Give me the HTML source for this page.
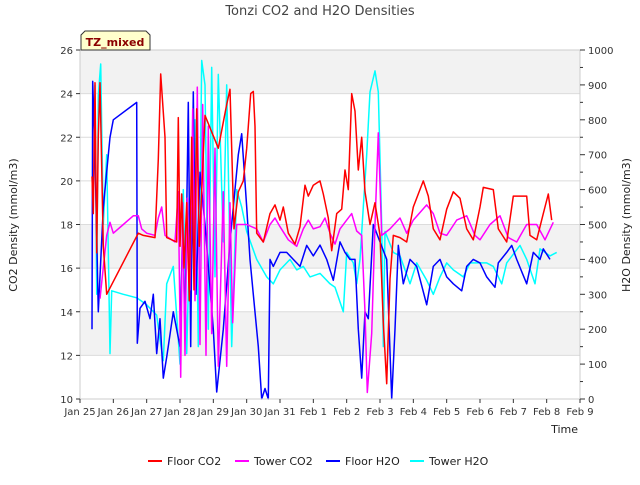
<!DOCTYPE html>
<html><head><meta charset="utf-8"><style>
body{margin:0;background:#fff;font-family:"Liberation Sans","DejaVu Sans",sans-serif}
svg text{font-family:"DejaVu Sans","Liberation Sans",sans-serif}
</style></head><body>
<svg id="chart" width="640" height="480" viewBox="0 0 640 480" xmlns="http://www.w3.org/2000/svg">
<rect width="640" height="480" fill="#fff"/>
<g id="bands"></g><g id="grid"></g><g id="series"></g><g id="axes"></g>
<text x="320" y="15" font-size="13" fill="#444" text-anchor="middle">Tonzi CO2 and H2O Densities</text>
<text transform="translate(17,225) rotate(-90)" font-size="11" fill="#222" text-anchor="middle">CO2 Density (mmol/m3)</text>
<text transform="translate(630,225) rotate(-90)" font-size="11" fill="#222" text-anchor="middle">H2O Density (mmol/m3)</text>
<text x="578" y="433" font-size="11" fill="#222" text-anchor="end">Time</text>
<g>
<path d="M81,50 L81,35 L85,31 L146,31 L150,35 L150,50 Z" fill="#ffffcc" stroke="#333" stroke-width="1"/>
<text x="115" y="46" font-size="11" font-weight="bold" fill="#8b0000" text-anchor="middle">TZ_mixed</text>
</g>
<g id="legend"></g>
</svg>
<script>
const fcT=[0.36,0.4,0.45,0.5,0.55,0.6,0.7,0.8,1.75,1.9,2.25,2.35,2.42,2.55,2.6,2.9,2.95,3.0,3.05,3.12,3.2,3.28,3.35,3.42,3.5,3.58,3.75,4.15,4.4,4.5,4.62,4.75,4.9,5.0,5.12,5.2,5.25,5.3,5.5,5.7,5.85,6.0,6.1,6.25,6.45,6.6,6.75,6.85,7.0,7.2,7.3,7.45,7.55,7.7,7.85,7.95,8.05,8.15,8.25,8.35,8.45,8.55,8.7,8.85,9.0,9.1,9.2,9.3,9.4,9.6,9.8,10.0,10.3,10.45,10.6,10.8,11.0,11.2,11.4,11.6,11.8,12.0,12.1,12.4,12.55,12.8,13.0,13.4,13.5,13.7,13.9,14.05,14.15];
const fcV=[20.2,18.5,24.5,16.7,22,24.5,17,14.8,17.6,17.5,17.4,21,24.9,22,17.4,17.2,22.9,17,19.4,16,19,14.5,22,15,23.3,17,23,21.5,23.5,24.2,17.8,19.5,20,21.5,24,24.1,22.5,17.6,17.2,18.5,18.9,18.2,18.8,17.6,17.1,17.9,19.8,19.3,19.8,20.0,19.4,18.3,16.8,18.5,18.7,20.5,19.6,24.0,23.2,20.5,22.0,19.5,18,19,17.5,13.5,10.7,15.5,17.5,17.4,17.2,18.8,20.0,19.3,17.8,17.3,18.7,19.5,19.2,17.8,17.3,18.8,19.7,19.6,17.8,17.2,19.3,19.3,17.5,17.3,18.5,19.4,18.2];
const tcT=[0.6,0.8,0.9,1.0,1.3,1.6,1.75,1.85,2.0,2.25,2.35,2.45,2.55,2.85,2.95,3.02,3.08,3.15,3.22,3.3,3.38,3.45,3.52,3.6,3.68,3.78,3.85,3.95,4.05,4.15,4.3,4.4,4.5,4.58,4.7,5.0,5.3,5.5,5.7,5.85,6.0,6.25,6.5,6.7,6.85,7.0,7.2,7.35,7.5,7.65,7.8,8.0,8.15,8.3,8.45,8.55,8.62,8.75,8.85,8.95,9.05,9.3,9.6,9.8,10.0,10.4,10.6,10.8,11.0,11.3,11.6,11.85,12.0,12.3,12.6,12.85,13.1,13.4,13.7,13.95,14.2];
const tcV=[14.6,17.5,18.1,17.6,18.0,18.4,18.4,17.8,17.6,17.5,18.3,18.8,17.5,17.2,19.5,11,19,12,19.2,15,23.3,14.5,24.3,12.5,23.5,12,22.5,13,21.5,11.5,19.5,11.5,19.0,13.5,18,18.0,17.8,17.2,18.0,18.3,17.9,17.3,17.0,17.8,18.2,17.8,17.9,18.3,17.6,17.1,17.8,18.2,18.5,17.7,17.5,14,10.3,13,18,22.2,17.5,17.8,18.3,17.6,18.2,18.9,18.5,17.6,17.5,18.2,18.4,17.5,17.3,18.0,18.4,17.4,17.2,18.0,18.0,17.3,18.1];
const fhT=[0.36,0.38,0.45,0.5,0.55,0.7,0.9,1.0,1.7,1.72,1.8,1.95,2.1,2.2,2.3,2.4,2.5,2.6,2.8,3.0,3.08,3.15,3.25,3.32,3.4,3.48,3.6,3.75,4.0,4.1,4.3,4.5,4.75,4.85,5.0,5.1,5.2,5.35,5.45,5.55,5.65,5.7,5.8,6.0,6.2,6.4,6.6,6.8,7.0,7.2,7.4,7.6,7.8,7.95,8.1,8.25,8.35,8.45,8.55,8.65,8.8,9.0,9.2,9.35,9.45,9.55,9.7,9.9,10.1,10.4,10.6,10.8,11.0,11.2,11.45,11.6,11.8,12.0,12.2,12.45,12.55,12.8,12.95,13.1,13.4,13.6,13.8,13.9,14.1];
const fhV=[200,910,700,470,250,550,750,800,850,160,260,280,230,300,130,230,60,120,250,150,500,200,850,150,880,300,650,500,200,20,200,450,700,760,550,400,300,150,0,30,0,400,380,420,420,400,380,440,410,441,400,340,450,420,400,400,200,60,250,230,500,450,400,0,200,440,330,400,380,270,380,400,350,330,310,380,400,390,350,320,390,420,440,400,330,420,400,430,400];
const thT=[0.45,0.5,0.55,0.62,0.7,0.8,0.9,0.95,1.3,1.7,2.0,2.3,2.4,2.5,2.6,2.8,3.0,3.1,3.2,3.3,3.45,3.55,3.65,3.75,3.85,3.95,4.05,4.15,4.3,4.4,4.55,4.7,4.85,5.0,5.3,5.6,5.8,6.0,6.3,6.5,6.7,6.9,7.2,7.5,7.65,7.9,8.0,8.2,8.3,8.4,8.5,8.6,8.7,8.85,8.95,9.05,9.1,9.15,9.4,9.6,9.9,10.1,10.4,10.6,10.8,11.0,11.2,11.5,11.7,12.0,12.2,12.4,12.65,12.8,13.2,13.4,13.65,13.8,14.1,14.3];
const thV=[900,300,870,960,500,700,130,310,300,290,270,240,170,110,330,380,100,600,130,500,800,150,970,900,200,950,350,930,450,900,150,600,550,480,400,350,330,370,400,370,380,350,360,330,320,250,420,390,330,400,550,700,880,940,880,500,150,480,420,410,330,390,340,300,350,390,370,350,390,390,390,380,330,390,440,400,330,430,410,420];
const xTicks=["Jan 25","Jan 26","Jan 27","Jan 28","Jan 29","Jan 30","Jan 31","Feb 1","Feb 2","Feb 3","Feb 4","Feb 5","Feb 6","Feb 7","Feb 8","Feb 9"];
const yLeftTicks=[10,12,14,16,18,20,22,24,26];
const yRightTicks=[0,100,200,300,400,500,600,700,800,900,1000];
const seriesNames=["Floor CO2","Tower CO2","Floor H2O","Tower H2O"];
const seriesColors=["#ff0000","#ff00ff","#0000ff","#00ffff"];

const L=80,R=580,T=50,B=399,NS="http://www.w3.org/2000/svg";
const xS=d=>L+d*(R-L)/15;
const yL=v=>B-(v-10)*(B-T)/16;
const yR=v=>B-v*(B-T)/1000;
function mk(tag,attrs,parent){const e=document.createElementNS(NS,tag);for(const k in attrs)e.setAttribute(k,attrs[k]);document.getElementById(parent).appendChild(e);return e;}
[[24,26],[16,18],[12,14]].forEach(b=>{const r=mk('rect',{x:L,y:yL(b[1]),width:R-L,height:yL(b[0])-yL(b[1]),fill:'#f2f2f2'},'bands');

});
yLeftTicks.forEach(v=>{const g=mk('line',{x1:L,x2:R,y1:yL(v),y2:yL(v),stroke:'#dcdcdc','stroke-width':1},'grid');

});
const border=mk('rect',{x:L,y:T,width:R-L,height:B-T,fill:'none',stroke:'#cccccc'},'axes');


xTicks.forEach((t,i)=>{mk('line',{x1:xS(i),x2:xS(i),y1:B,y2:B+4,stroke:'#333'},'axes');
const tx=mk('text',{x:xS(i),y:B+16,'font-size':10,fill:'#333','text-anchor':'middle'},'axes');tx.textContent=t;

});
yLeftTicks.forEach(v=>{mk('line',{x1:L-4,x2:L,y1:yL(v),y2:yL(v),stroke:'#333'},'axes');
const tx=mk('text',{x:L-7,y:yL(v)+4,'font-size':10,fill:'#333','text-anchor':'end'},'axes');tx.textContent=v;

});
yRightTicks.forEach(v=>{mk('line',{x1:R,x2:R+5,y1:yR(v),y2:yR(v),stroke:'#333'},'axes');
if(v<1000)mk('line',{x1:R,x2:R+3,y1:yR(v+50),y2:yR(v+50),stroke:'#333'},'axes');
const tx=mk('text',{x:R+8,y:yR(v)+4,'font-size':10,fill:'#333'},'axes');tx.textContent=v;

});
const sets=[[fcT,fcV,yL],[tcT,tcV,yL],[fhT,fhV,yR],[thT,thV,yR]];
const order=[3,2,1,0];
order.forEach(i=>{const [t,v,ys]=sets[i];
const p=mk('polyline',{points:t.map((d,j)=>xS(d).toFixed(1)+','+ys(v[j]).toFixed(1)).join(' '),fill:'none',stroke:seriesColors[i],'stroke-width':1.5,'stroke-linejoin':'round'},'series');

});
const lx=[148,235,326,410];
seriesNames.forEach((n,i)=>{mk('line',{x1:lx[i],x2:lx[i]+14,y1:461,y2:461,stroke:seriesColors[i],'stroke-width':2},'legend');
const tx=mk('text',{x:lx[i]+19,y:465,'font-size':11,fill:'#222'},'legend');tx.textContent=n;

});
</script>
</body></html>
